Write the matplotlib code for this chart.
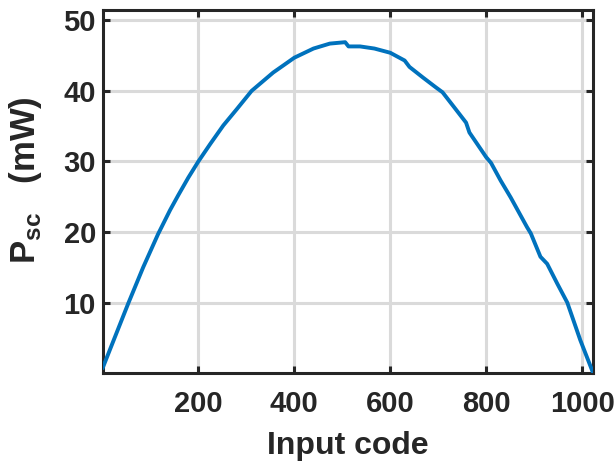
#!/usr/bin/env python3
"""Short-circuit power vs input code"""
import matplotlib
matplotlib.use('Agg')
import matplotlib.pyplot as plt

plt.rcParams['font.family'] = ['Liberation Sans', 'DejaVu Sans']
plt.rcParams['font.weight'] = 'bold'
plt.rcParams['mathtext.fontset'] = 'custom'
plt.rcParams['mathtext.rm'] = 'Liberation Sans:bold'
plt.rcParams['mathtext.bf'] = 'Liberation Sans:bold'

TEXT = '#262626'
LINE_BLUE = '#0072BD'

# values
input_code = [1, 26, 54, 85, 116, 141, 158, 179, 200, 225, 252, 280, 311,
              356, 377, 400, 440, 474, 506, 513, 537, 567, 600, 630, 640,
              668, 695, 709, 733, 758, 765, 800, 810, 830, 851, 885, 893,
              913, 927, 948, 969, 996, 1023]
p_sc = [0.8, 5.1, 9.9, 15.0, 19.7, 23.1, 25.2, 27.7, 30.0, 32.5, 35.1, 37.4,
        40.0, 42.6, 43.6, 44.7, 46.0, 46.7, 46.9, 46.3, 46.3, 46.0, 45.4,
        44.3, 43.4, 41.9, 40.5, 39.8, 37.7, 35.5, 34.1, 30.6, 29.8, 27.3,
        24.9, 20.7, 19.8, 16.5, 15.5, 12.7, 10.0, 4.7, 0.0]

x_ticks = [200, 400, 600, 800, 1000]
y_ticks = [10, 20, 30, 40, 50]

fig = plt.figure(figsize=(6.16, 4.63), dpi=100)
ax = fig.add_axes([0.167, 0.194, 0.796, 0.785])

ax.plot(input_code, p_sc, color=LINE_BLUE, lw=2.8, zorder=3)

ax.set_xlim(1, 1023)
ax.set_ylim(0, 51.5)
ax.set_xticks(x_ticks)
ax.set_yticks(y_ticks)

ax.grid(True, color='#DADADA', lw=2.2)
ax.set_axisbelow(True)
for side in ax.spines.values():
    side.set_linewidth(2.2)
    side.set_color(TEXT)
ax.tick_params(direction='in', length=5, width=2.2, top=True, right=True,
               labelsize=21, colors=TEXT)
ax.tick_params(axis='x', pad=12)
ax.tick_params(axis='y', pad=5)
for lab in ax.get_xticklabels() + ax.get_yticklabels():
    lab.set_fontweight('bold')

ax.set_xlabel('Input code', fontsize=23, fontweight='bold', color=TEXT, va='top')
ax.xaxis.set_label_coords(0.5, -0.158)
ax.set_ylabel(r'P$_{\mathrm{sc}}$   (mW)', fontsize=25, fontweight='bold',
              color=TEXT)
ax.yaxis.set_label_coords(-0.12, 0.53)

fig.savefig('out.png', dpi=100, facecolor='white')
